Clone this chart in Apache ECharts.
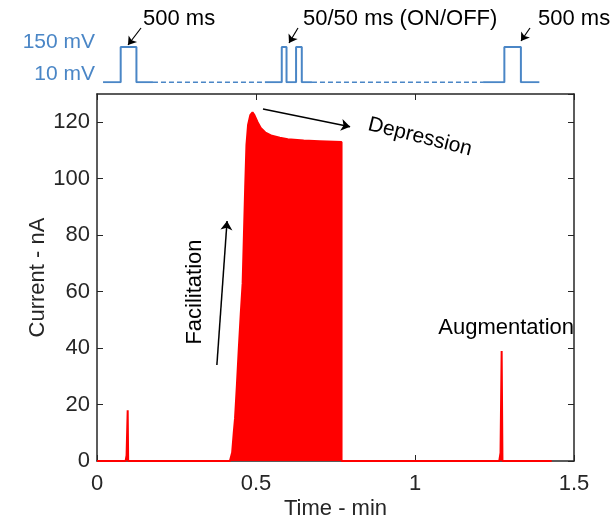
<!DOCTYPE html>
<html><head><meta charset="utf-8">
<script src="https://cdn.jsdelivr.net/npm/echarts@6/dist/echarts.min.js"></script>
<style>html,body{margin:0;padding:0;background:#fff}#c{width:616px;height:525px}</style>
</head><body><div id="c"></div>
<script>
// ---- Data ----
const currentTime = [0, 0.090, 0.093, 0.0965, 0.098,
  0.418, 0.425, 0.430, 0.434, 0.440, 0.446, 0.452, 0.458, 0.462, 0.466, 0.470, 0.475, 0.482, 0.489, 0.495,
  0.505, 0.515, 0.530, 0.550, 0.575, 0.600, 0.650, 0.700, 0.769, 0.769,
  1.265, 1.269, 1.2725, 1.275, 1.43];
const currentNA = [0, 0, 2, 18, 0,
  0, 3, 10, 15, 27, 40, 52, 63, 80, 97, 112, 119, 122.5, 123.5, 122.5,
  120, 118, 116.3, 115.2, 114.5, 114, 113.5, 113.3, 113, 0,
  0, 3, 39, 0, 0];
const pulseTime = [0.019, 0.0745, 0.0745, 0.124, 0.124, 0.176,
  0.528, 0.581, 0.581, 0.596, 0.596, 0.626, 0.626, 0.644, 0.644, 0.676,
  1.214, 1.281, 1.281, 1.333, 1.333, 1.391];
const pulseLevel = [10, 10, 150, 150, 10, 10,
  10, 10, 150, 150, 10, 10, 150, 150, 10, 10,
  10, 10, 150, 150, 10, 10];
const dashStart = [0.176, 0.676];
const dashEnd = [0.528, 1.214];
const levelTicks = [10, 150];
const xTicks = [0, 0.5, 1, 1.5];
const yTicks = [0, 20, 40, 60, 80, 100, 120];

// ---- Build ----
const FONT = 'Liberation Sans, Arial, Helvetica, sans-serif';
const AX = '#262626';
const BLUE = '#4a86c6';
const mainData = currentTime.map((t, i) => [t, currentNA[i]]);
const solidData = [];
pulseTime.forEach((t, i) => {
  solidData.push([t, pulseLevel[i]]);
  if (i < pulseTime.length - 1 && dashStart.includes(t) && dashEnd.includes(pulseTime[i + 1])) solidData.push('-');
});
const dashedData = [];
dashStart.forEach((s, i) => { dashedData.push([s, 10], [dashEnd[i], 10]); if (i < dashStart.length - 1) dashedData.push('-'); });

const chart = echarts.init(document.getElementById('c'), null, {renderer: 'canvas'});
const axisCommon = () => ({
  axisLine: {show: true, onZero: false, lineStyle: {color: AX, width: 1.5}},
  axisTick: {show: true, inside: true, length: 6, lineStyle: {color: AX, width: 1}},
  splitLine: {show: false},
});
chart.setOption({
  animation: false,
  backgroundColor: '#fff',
  grid: [
    {left: 97, right: 42, top: 94, bottom: 61.5},
    {left: 97, right: 42, top: 47, height: 35.3}
  ],
  xAxis: [
    Object.assign({type: 'value', gridIndex: 0, position: 'bottom', min: xTicks[0], max: xTicks[xTicks.length - 1], interval: 0.5,
      name: 'Time - min', nameLocation: 'middle', nameGap: 37, nameMoveOverlap: false,
      nameTextStyle: {fontFamily: FONT, fontSize: 22, color: AX},
      axisLabel: {fontFamily: FONT, fontSize: 22, color: AX, margin: 12}}, axisCommon()),
    Object.assign({type: 'value', gridIndex: 0, position: 'top', min: 0, max: 1.5, interval: 0.5,
      axisLabel: {show: false}}, axisCommon()),
    {type: 'value', gridIndex: 1, min: 0, max: 1.5, show: false}
  ],
  yAxis: [
    Object.assign({type: 'value', gridIndex: 0, position: 'left', min: 0, max: 130, interval: 20,
      name: 'Current - nA', nameLocation: 'middle', nameGap: 48, nameMoveOverlap: false,
      nameTextStyle: {fontFamily: FONT, fontSize: 22, color: AX},
      axisLabel: {fontFamily: FONT, fontSize: 22, color: AX, margin: 7, showMaxLabel: false,
        formatter: v => yTicks.includes(v) ? String(v) : ''}}, axisCommon()),
    Object.assign({type: 'value', gridIndex: 0, position: 'right', min: 0, max: 130, interval: 20,
      axisLabel: {show: false}}, axisCommon()),
    {type: 'value', gridIndex: 1, min: levelTicks[0], max: levelTicks[1], interval: levelTicks[1] - levelTicks[0],
      axisLine: {show: false}, axisTick: {show: false}, splitLine: {show: false},
      axisLabel: {fontFamily: FONT, fontSize: 21, color: BLUE, margin: 2, verticalAlign: 'bottom',
        formatter: v => v === levelTicks[1] ? '{hi|' + v + ' mV}' : '{lo|' + v + ' mV}',
        rich: {hi: {fontFamily: FONT, fontSize: 21, color: BLUE, lineHeight: 10},
               lo: {fontFamily: FONT, fontSize: 21, color: BLUE, lineHeight: 17}}}}
  ],
  series: [
    {type: 'line', xAxisIndex: 0, yAxisIndex: 0, data: mainData, symbol: 'none',
      lineStyle: {color: '#ff0000', width: 2}, areaStyle: {color: '#ff0000', opacity: 1}, z: 3,
      markLine: {silent: true, symbol: ['none', 'arrow'], symbolSize: 9, label: {show: false},
        lineStyle: {color: '#000', width: 1.5, type: 'solid'},
        data: [
          [{coord: [0.522, 124.7]}, {coord: [0.796, 118.4]}],
          [{coord: [0.377, 34]}, {coord: [0.409, 85]}]
        ]}},
    {type: 'line', xAxisIndex: 2, yAxisIndex: 2, data: solidData, symbol: 'none', connectNulls: false,
      lineStyle: {color: BLUE, width: 2},
      markLine: {silent: true, symbol: ['none', 'arrow'], symbolSize: 8, label: {show: false},
        lineStyle: {color: '#000', width: 1.2, type: 'solid'},
        data: [
          [{x: 141, y: 28}, {x: 128, y: 45}],
          [{x: 298, y: 28}, {x: 289, y: 43}],
          [{x: 530, y: 28}, {x: 521, y: 41}]
        ]}},
    {type: 'line', xAxisIndex: 2, yAxisIndex: 2, data: dashedData, symbol: 'none', connectNulls: false,
      lineStyle: {color: BLUE, width: 1.5, type: [5, 3]}}
  ],
  graphic: [
    {type: 'text', x: 143, y: 19, style: {text: '500 ms', fontFamily: FONT, fontSize: 22, fill: '#000', verticalAlign: 'middle'}},
    {type: 'text', x: 303, y: 19, style: {text: '50/50 ms (ON/OFF)', fontFamily: FONT, fontSize: 22, fill: '#000', verticalAlign: 'middle'}},
    {type: 'text', x: 538, y: 19, style: {text: '500 ms', fontFamily: FONT, fontSize: 22, fill: '#000', verticalAlign: 'middle'}},
    {type: 'text', x: 195, y: 292, rotation: Math.PI / 2, style: {text: 'Facilitation', fontFamily: FONT, fontSize: 22, fill: '#000', align: 'center', verticalAlign: 'middle'}},
    {type: 'text', x: 420, y: 137, rotation: -14 * Math.PI / 180, style: {text: 'Depression', fontFamily: FONT, fontSize: 21, fill: '#000', align: 'center', verticalAlign: 'middle'}},
    {type: 'text', x: 574, y: 328, style: {text: 'Augmentation', fontFamily: FONT, fontSize: 22, fill: '#000', align: 'right', verticalAlign: 'middle'}}
  ]
});
</script></body></html>
